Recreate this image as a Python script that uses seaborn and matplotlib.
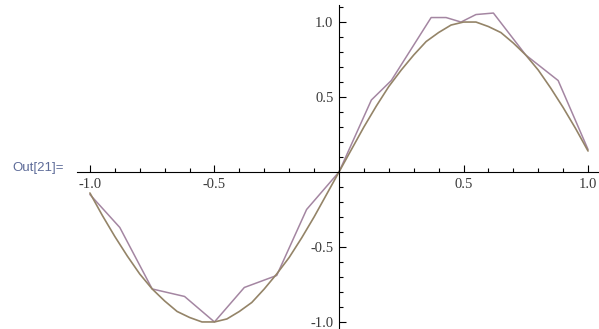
"""Mathematica-style output: smooth curve with a rough piecewise-linear copy."""
import matplotlib
matplotlib.use("Agg")
import matplotlib.pyplot as plt
import matplotlib.ticker as mticker
import pandas as pd
import seaborn as sns

# Smooth curve, every 0.05
smooth_x = [-1.00, -0.95, -0.90, -0.85, -0.80, -0.75, -0.70, -0.65, -0.60, -0.55,
            -0.50, -0.45, -0.40, -0.35, -0.30, -0.25, -0.20, -0.15, -0.10, -0.05,
            0.00, 0.05, 0.10, 0.15, 0.20, 0.25, 0.30, 0.35, 0.40, 0.45,
            0.50, 0.55, 0.60, 0.65, 0.70, 0.75, 0.80, 0.85, 0.90, 0.95, 1.00]
smooth_y = [-0.14, -0.29, -0.43, -0.56, -0.68, -0.78, -0.86, -0.93, -0.97, -1.00,
            -1.00, -0.98, -0.93, -0.87, -0.78, -0.68, -0.57, -0.44, -0.30, -0.15,
            0.00, 0.15, 0.30, 0.44, 0.57, 0.68, 0.78, 0.87, 0.93, 0.98,
            1.00, 1.00, 0.97, 0.93, 0.86, 0.78, 0.68, 0.56, 0.43, 0.29, 0.14]

# Rough polyline vertices
rough_x = [-1.00, -0.88, -0.75, -0.62, -0.50, -0.38, -0.25, -0.13, 0.00,
           0.13, 0.21, 0.37, 0.43, 0.49, 0.55, 0.62, 0.75, 0.88, 1.00]
rough_y = [-0.15, -0.37, -0.78, -0.83, -1.00, -0.77, -0.69, -0.25, 0.00,
           0.48, 0.61, 1.03, 1.03, 1.00, 1.05, 1.06, 0.78, 0.61, 0.15]

major_ticks = [-1.0, -0.5, 0.5, 1.0]
x_minor = [-0.9, -0.8, -0.7, -0.6, -0.4, -0.3, -0.2, -0.1,
           0.1, 0.2, 0.3, 0.4, 0.6, 0.7, 0.8, 0.9]
y_minor = x_minor + [1.1]

out_label = "Out[21]="

smooth = pd.DataFrame({"x": smooth_x, "y": smooth_y})
rough = pd.DataFrame({"x": rough_x, "y": rough_y})

sns.set_style("white")

fig = plt.figure(figsize=(5.99, 3.29), dpi=100)
ax = fig.add_axes([0, 0, 1, 1])

sns.lineplot(data=rough, x="x", y="y", ax=ax, sort=False, estimator=None,
             color="#a486a2", linewidth=1.1)
sns.lineplot(data=smooth, x="x", y="y", ax=ax, sort=False, estimator=None,
             color="#948468", linewidth=1.2)

ax.set_xlim(-1.361, 1.044)
ax.set_ylim(-1.047, 1.147)
ax.set_xlabel("")
ax.set_ylabel("")

# axes through the origin
for side in ("top", "right"):
    ax.spines[side].set_visible(False)
ax.spines["left"].set_position(("data", 0))
ax.spines["bottom"].set_position(("data", 0))
ax.spines["bottom"].set_bounds(-1.05, 1.044)
ax.spines["left"].set_bounds(-1.047, 1.113)
for side in ("left", "bottom"):
    ax.spines[side].set_color("black")
    ax.spines[side].set_linewidth(0.8)

ax.xaxis.set_major_locator(mticker.FixedLocator(major_ticks))
ax.yaxis.set_major_locator(mticker.FixedLocator(major_ticks))
ax.xaxis.set_minor_locator(mticker.FixedLocator(x_minor))
ax.yaxis.set_minor_locator(mticker.FixedLocator(y_minor))
ax.xaxis.set_major_formatter(mticker.FormatStrFormatter("%.1f"))
ax.yaxis.set_major_formatter(mticker.FormatStrFormatter("%.1f"))

ax.tick_params(which="both", direction="in", color="black", width=0.8,
               bottom=True, left=True)
ax.tick_params(which="major", length=5, pad=4, labelsize=10.5, labelcolor="#3a3a3a")
ax.tick_params(which="minor", length=3)
for lab in ax.get_xticklabels() + ax.get_yticklabels():
    lab.set_fontfamily("Liberation Serif")

fig.text(12 / 599, 1 - 171 / 329, out_label, fontsize=9.5, color="#5d6b98",
         family="Liberation Sans", va="baseline", ha="left")

fig.savefig("out.png", dpi=100)
